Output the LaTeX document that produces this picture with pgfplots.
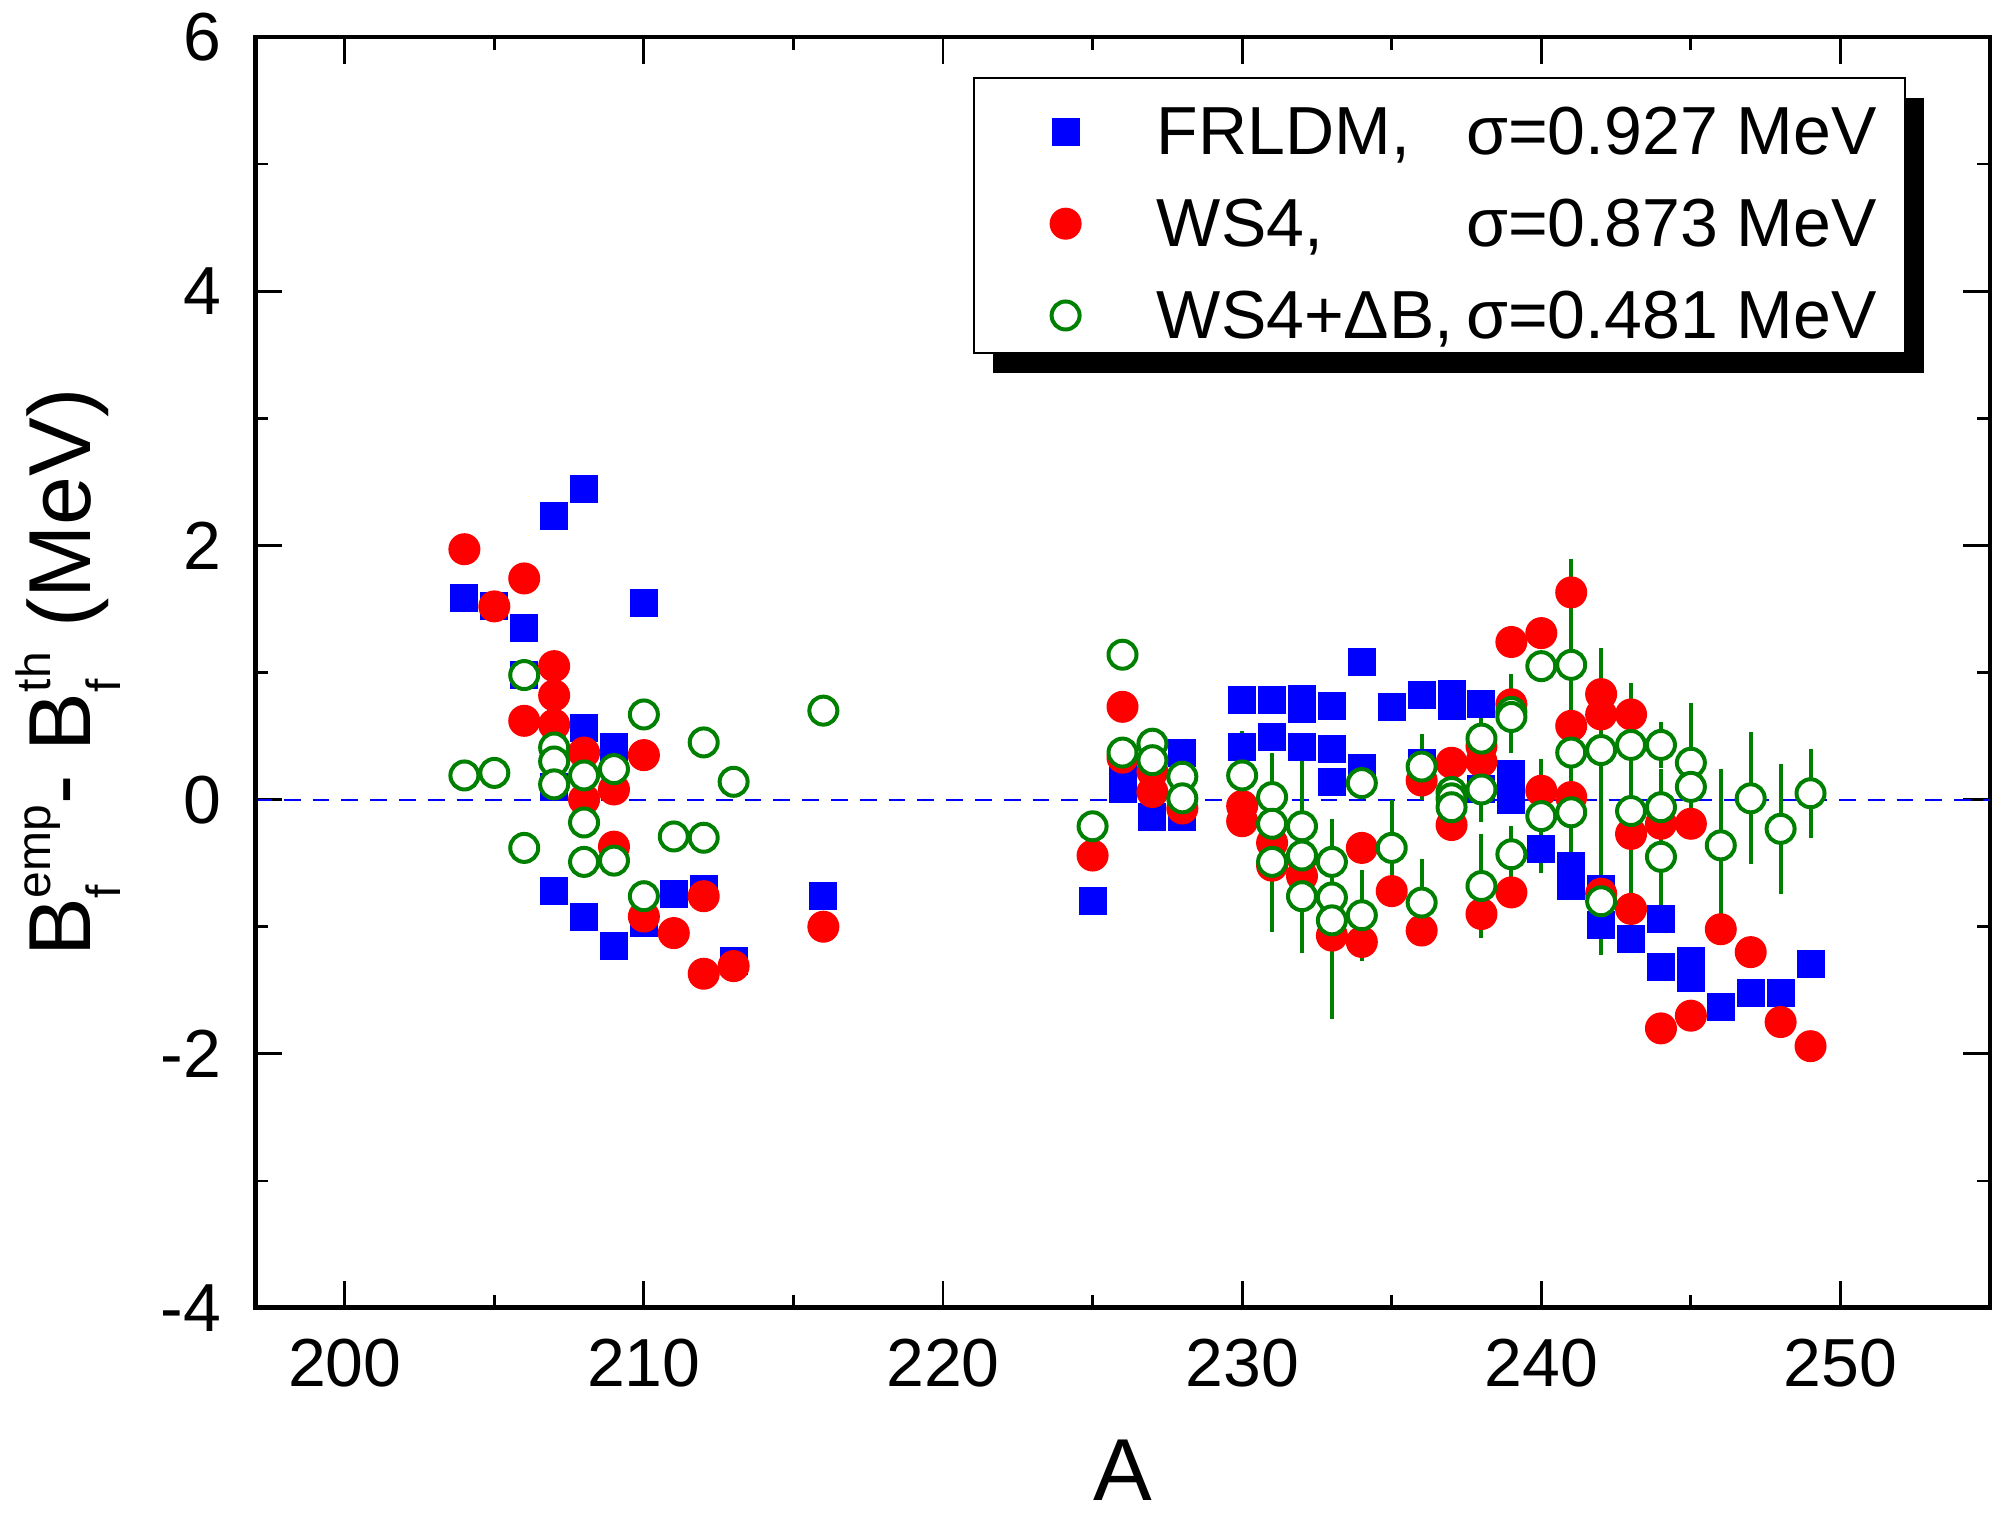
\documentclass[border=0pt]{standalone}
\usepackage{fontspec}
\setmainfont{Liberation Sans}
\usepackage{pgfplots}
\pgfplotsset{compat=1.18}
\usepackage{pgfplotstable}
\usetikzlibrary{shadows}
\definecolor{cblue}{RGB}{0,0,255}
\definecolor{cred}{RGB}{255,0,0}
\definecolor{cgreen}{RGB}{0,128,0}
\newcommand{\scr}[1]{{\fontsize{12}{12}\selectfont #1}}

\pgfplotstableread{
x y
204 1.59
205 1.52
206 1.35
206 0.98
207 2.23
207 0.10
207 -0.72
208 2.44
208 0.56
208 -0.92
209 0.41
209 -1.15
210 1.55
210 -0.97
211 -0.74
212 -0.70
213 -1.27
216 -0.76
225 -0.80
226 0.18
226 0.08
227 -0.14
228 0.37
228 -0.14
230 0.78
230 0.41
231 0.78
231 0.49
232 0.79
232 0.71
232 0.41
233 0.74
233 0.40
233 0.14
234 1.08
234 0.25
235 0.73
236 0.82
236 0.29
237 0.83
237 0.74
238 0.75
238 0.08
239 0.20
239 0.00
240 -0.39
241 -0.52
241 -0.68
242 -0.70
242 -0.99
243 -1.10
244 -0.94
244 -1.32
245 -1.27
245 -1.40
246 -1.63
247 -1.52
248 -1.52
249 -1.29
}\bluedata

\pgfplotstableread{
x y
204 1.97
205 1.52
206 1.74
206 0.62
207 1.05
207 0.82
207 0.59
208 0.37
208 0.00
209 0.08
209 -0.37
210 0.35
210 -0.92
211 -1.05
212 -0.76
212 -1.37
213 -1.31
216 -1.00
225 -0.44
226 0.73
226 0.33
227 0.22
227 0.06
228 -0.07
230 -0.05
230 -0.17
231 -0.34
231 -0.52
232 -0.45
232 -0.60
233 -1.07
234 -0.38
234 -1.12
235 -0.72
236 0.15
236 -1.03
237 0.29
237 -0.20
238 0.42
238 0.30
238 -0.90
239 1.24
239 0.75
239 -0.73
240 1.31
240 0.07
241 1.63
241 0.58
241 0.02
242 0.83
242 0.67
242 -0.74
243 0.67
243 -0.27
243 -0.86
244 -0.19
244 -1.80
245 -0.19
245 -1.70
246 -1.02
247 -1.20
248 -1.75
249 -1.94
}\reddata

\pgfplotstableread{
x y ey
204 0.19 0
205 0.21 0
206 0.98 0
206 -0.38 0
207 0.41 0
207 0.30 0
207 0.12 0
208 0.19 0
208 -0.18 0
208 -0.49 0
209 0.24 0
209 -0.48 0
210 0.67 0
210 -0.76 0
211 -0.29 0
212 0.45 0
212 -0.30 0
213 0.14 0
216 0.70 0
225 -0.21 0
226 1.14 0
226 0.37 0
227 0.44 0
227 0.31 0
228 0.18 0
228 0.01 0
230 0.19 0.35
231 0.02 0.35
231 -0.19 0.30
231 -0.49 0.55
232 -0.21 0.69
232 -0.44 0.30
232 -0.76 0.45
233 -0.49 0.34
233 -0.77 0.30
233 -0.95 0.78
234 0.13 0
234 -0.91 0.36
235 -0.38 0.38
236 0.26 0.26
236 -0.81 0.34
237 0.06 0.32
237 0.01 0.20
237 -0.06 0.17
238 0.48 0.38
238 0.08 0.26
238 -0.68 0.41
239 0.69 0.30
239 0.65 0.28
239 -0.43 0.22
240 1.05 0
240 -0.13 0.45
241 1.06 0.83
241 0.37 0.30
241 -0.10 0.34
242 0.39 0.80
242 -0.80 0.42
243 0.43 0.49
243 -0.09 0.68
244 0.43 0.18
244 -0.06 0.30
244 -0.45 0.44
245 0.29 0.47
245 0.10 0.27
246 -0.36 0.60
247 0.01 0.52
248 -0.23 0.51
249 0.05 0.35
}\greendata

\begin{document}
\begin{tikzpicture}
\begin{axis}[
  name=ax,
  at={(0,0)}, anchor=south west,
  scale only axis,
  width=433.75pt, height=317.75pt,
  xmin=197, xmax=255,
  ymin=-4, ymax=6,
  xtick={200,210,...,250},
  minor x tick num=1,
  ytick={-4,-2,0,2,4,6},
  yticklabels={-4,-2,0,2,4,6},
  minor y tick num=1,
  tick pos=both,
  tick align=inside,
  major tick length=6.7pt,
  minor tick length=3.3pt,
  tick style={line width=0.7pt, black},
  axis line style={line width=0.8pt},
  /pgf/number format/assume math mode=true,
  tick label style={font=\fontsize{17}{20}\selectfont},
  yticklabel style={anchor=east, inner sep=0pt, xshift=-8.25pt},
  xticklabel style={anchor=north, inner sep=0pt, yshift=-7.5pt},
  every axis x label/.style={at={(axis description cs:0.5,-0.15106)}, anchor=base, inner sep=0pt},
  every axis y label/.style={at={(axis description cs:-0.0951,0.5)}, rotate=90, anchor=base, inner sep=0pt},
  xlabel={\fontsize{22}{26}\selectfont A},
  ylabel={\fontsize{22}{26}\selectfont B\rlap{\raisebox{-7.5pt}{\scr{f}}}\raisebox{10pt}{\scr{emp}}- B\rlap{\raisebox{-7.5pt}{\scr{f}}}\raisebox{10pt}{\scr{th}} (MeV)},
  legend cell align=left,
  legend image code/.code={\draw[#1] plot coordinates {(15.65pt,-2pt)}; \path (0pt,0pt) (19.15pt,0pt);},
  legend style={at={(axis description cs:0.41383,0.96853)}, anchor=north west,
    draw=black, line width=0.5pt, fill=white,
    inner xsep=7pt, inner ysep=0pt, column sep=19pt, row sep=0pt,
    nodes={inner sep=0pt, text height=19.2pt, text depth=3.75pt, font=\fontsize{17}{20}\selectfont},
    drop shadow={shadow xshift=4.75pt, shadow yshift=-5pt, fill=black, opacity=1}},
]
\addplot[cblue, line width=0.5pt, dash pattern=on 4.2pt off 3pt, forget plot] coordinates {(197,0) (255,0)};

\addplot[only marks, mark=square*, mark size=3.3pt, cblue,
  mark options={fill=cblue, draw=cblue, line width=0.4pt}] table[x=x,y=y] \bluedata;
\addlegendentry{\hbox to 180pt{FRLDM,\hfill σ=0.927 MeV}}

\addplot[only marks, mark=*, mark size=3.8pt, cred,
  mark options={fill=cred, draw=cred, line width=0.4pt}] table[x=x,y=y] \reddata;
\addlegendentry{\hbox to 180pt{WS4,\hfill σ=0.873 MeV}}

\addplot[only marks, mark=*, mark size=3.5pt, cgreen,
  mark options={fill=white, draw=cgreen, line width=1pt},
  error bars/.cd, y dir=both, y explicit, error mark=none,
  error bar style={line width=1pt, cgreen}] table[x=x,y=y,y error=ey] \greendata;
\addlegendentry{\hbox to 180pt{WS4+ΔB,\hfill σ=0.481 MeV}}

\draw[line width=1.3pt] (rel axis cs:0,1) -- (rel axis cs:0,0) -- (rel axis cs:1,0);
\end{axis}
\pgfresetboundingbox
\path[use as bounding box] ([shift={(-63.75pt,-53pt)}]ax.south west) rectangle ([shift={(1pt,9.25pt)}]ax.north east);
\end{tikzpicture}
\end{document}
